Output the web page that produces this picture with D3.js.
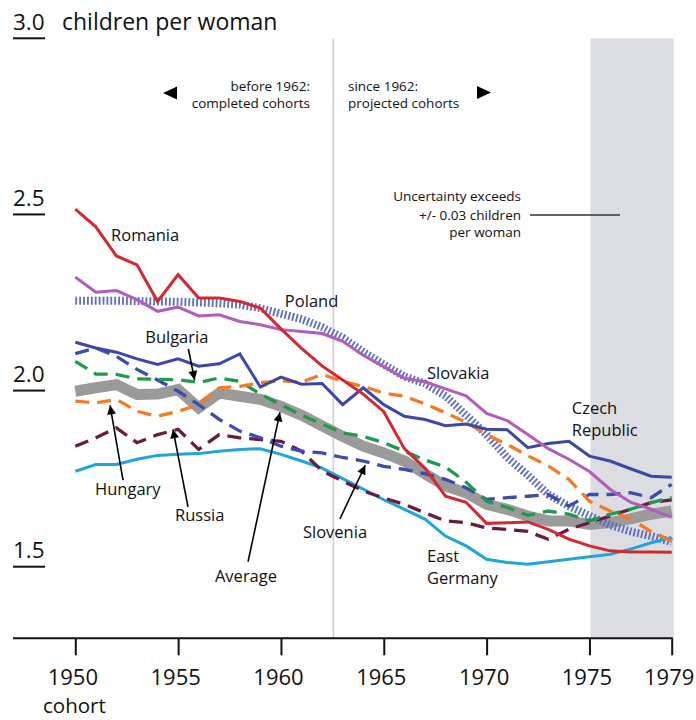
<!DOCTYPE html>
<html>
<head>
<meta charset="utf-8">
<script src="https://cdn.jsdelivr.net/npm/d3@7"></script>
<style>
body { margin: 0; background: #fff; }
svg text { font-family: "Open Sans", "Noto Sans", sans-serif; fill: #111; }
</style>
</head>
<body>
<script>
var width = 696, height = 720;

// cohort years
var years = [1950, 1951, 1952, 1953, 1954, 1955, 1956, 1957, 1958, 1959,
             1960, 1961, 1962, 1963, 1964, 1965, 1966, 1967, 1968, 1969,
             1970, 1971, 1972, 1973, 1974, 1975, 1976, 1977, 1978, 1979];

// completed / projected cohort fertility, children per woman
var romania  = [2.515, 2.465, 2.382, 2.357, 2.253, 2.329, 2.263, 2.263, 2.253, 2.234,
                2.175, 2.12, 2.07, 2.03, 1.99, 1.94, 1.835, 1.78, 1.70, 1.683,
                1.623, 1.625, 1.627, 1.606, 1.578, 1.559, 1.545, 1.542, 1.542, 1.541];
var slovakia = [2.322, 2.279, 2.284, 2.258, 2.225, 2.237, 2.212, 2.215, 2.196, 2.187,
                2.173, 2.168, 2.162, 2.14, 2.10, 2.068, 2.035, 2.025, 2.005, 1.985,
                1.935, 1.915, 1.875, 1.835, 1.805, 1.77, 1.72, 1.683, 1.663, 1.64];
var poland   = [2.255, 2.255, 2.255, 2.254, 2.253, 2.252, 2.25, 2.248, 2.244, 2.234,
                2.218, 2.203, 2.18, 2.15, 2.11, 2.074, 2.04, 2.02, 1.985, 1.93,
                1.875, 1.81, 1.76, 1.705, 1.672, 1.645, 1.618, 1.60, 1.587, 1.57];
var czech    = [2.137, 2.121, 2.109, 2.09, 2.074, 2.09, 2.069, 2.076, 2.104, 2.01,
                2.038, 2.018, 2.02, 1.96, 2.008, 1.96, 1.927, 1.918, 1.90, 1.905,
                1.89, 1.889, 1.838, 1.85, 1.856, 1.814, 1.80, 1.778, 1.757, 1.754];
var slovenia = [2.105, 2.121, 2.097, 2.06, 2.03, 1.998, 1.96, 1.918, 1.885, 1.866,
                1.842, 1.828, 1.823, 1.81, 1.80, 1.785, 1.776, 1.764, 1.748, 1.724,
                1.691, 1.696, 1.70, 1.705, 1.672, 1.705, 1.705, 1.71, 1.696, 1.734];
var bulgaria = [2.083, 2.047, 2.046, 2.033, 2.032, 2.031, 2.023, 2.036, 2.026, 1.99,
                1.96, 1.93, 1.905, 1.88, 1.87, 1.852, 1.828, 1.803, 1.783, 1.74,
                1.686, 1.668, 1.646, 1.658, 1.649, 1.63, 1.649, 1.663, 1.682, 1.696];
var average  = [1.998, 2.008, 2.017, 1.989, 1.99, 2.003, 1.951, 1.993, 1.984, 1.975,
                1.955, 1.93, 1.90, 1.87, 1.842, 1.823, 1.80, 1.764, 1.729, 1.71,
                1.677, 1.663, 1.644, 1.63, 1.63, 1.62, 1.625, 1.636, 1.649, 1.658];
var hungary  = [1.97, 1.965, 1.975, 1.941, 1.927, 1.941, 1.96, 2.008, 2.012, 2.022,
                2.028, 2.024, 2.046, 2.026, 2.012, 1.993, 1.984, 1.962, 1.937, 1.91,
                1.875, 1.847, 1.815, 1.786, 1.748, 1.686, 1.658, 1.635, 1.60, 1.573];
var russia   = [1.842, 1.866, 1.894, 1.852, 1.875, 1.89, 1.833, 1.875, 1.866, 1.861,
                1.856, 1.828, 1.772, 1.743, 1.715, 1.695, 1.677, 1.653, 1.63, 1.625,
                1.61, 1.606, 1.60, 1.578, 1.606, 1.625, 1.644, 1.663, 1.682, 1.69];
var eastGermany = [1.771, 1.79, 1.79, 1.805, 1.816, 1.819, 1.821, 1.828, 1.833, 1.835,
                1.819, 1.80, 1.78, 1.75, 1.72, 1.69, 1.663, 1.635, 1.587, 1.559,
                1.521, 1.512, 1.507, 1.514, 1.521, 1.528, 1.535, 1.55, 1.568, 1.583];

var xTicks = [1950, 1955, 1960, 1965, 1970, 1975, 1979];
var yTicks = [1.5, 2.0, 2.5, 3.0];

var x = d3.scaleLinear().domain([1950, 1979]).range([75.3, 671.7]);
var y = d3.scaleLinear().domain([1.5, 3.0]).range([566.7, 38.3]);
var yBottom = 638.3;

var svg = d3.select("body").append("svg")
    .attr("width", width)
    .attr("height", height);

svg.append("defs").append("marker")
    .attr("id", "arrow")
    .attr("viewBox", "0 0 10 10")
    .attr("refX", 10).attr("refY", 5)
    .attr("markerWidth", 10).attr("markerHeight", 9)
    .attr("markerUnits", "userSpaceOnUse")
    .attr("orient", "auto")
  .append("path")
    .attr("d", "M0,0L10,5L0,10Z")
    .attr("fill", "#000");

// uncertainty band
svg.append("rect")
    .attr("x", x(1975) + 1)
    .attr("y", y(3.0))
    .attr("width", x(1979) - x(1975) + 1)
    .attr("height", yBottom - y(3.0))
    .attr("fill", "#dcdde0");

// 1962 divider
svg.append("line")
    .attr("x1", x(1962.55)).attr("x2", x(1962.55))
    .attr("y1", y(3.0)).attr("y2", yBottom)
    .attr("stroke", "#cfcfcf")
    .attr("stroke-width", 1.6);

// y labels with underline
var yg = svg.append("g").selectAll("g")
    .data(yTicks).enter().append("g");
yg.append("line")
    .attr("x1", 13).attr("x2", 45)
    .attr("y1", function(d) { return y(d); })
    .attr("y2", function(d) { return y(d); })
    .attr("stroke", "#111").attr("stroke-width", 2);
yg.append("text")
    .attr("x", 13)
    .attr("y", function(d) { return y(d) - 8.5; })
    .style("font-size", "22.5px")
    .text(function(d) { return d.toFixed(1); });

svg.append("text")
    .attr("x", 62).attr("y", y(3.0) - 8.5)
    .style("font-size", "23px")
    .text("children per woman");

// x axis
svg.append("line")
    .attr("x1", 13).attr("x2", x(1979) + 1)
    .attr("y1", yBottom).attr("y2", yBottom)
    .attr("stroke", "#111").attr("stroke-width", 2);

var xAxis = svg.append("g")
    .attr("transform", "translate(0," + yBottom + ")")
    .call(d3.axisBottom(x).tickValues(xTicks).tickSize(17).tickSizeOuter(0).tickFormat(d3.format("d")));
xAxis.select(".domain").remove();
xAxis.selectAll(".tick line").attr("stroke", "#111").attr("stroke-width", 2);
xAxis.selectAll(".tick text")
    .attr("y", 47).attr("dy", 0).attr("dx", -3)
    .style("font-size", "22px")
    .style("font-family", "'Open Sans', sans-serif")
    .attr("fill", "#111");

svg.append("text")
    .attr("x", 43).attr("y", 713)
    .style("font-size", "20.5px")
    .text("cohort");

// series
var line = d3.line()
    .x(function(d, i) { return x(years[i]); })
    .y(function(d) { return y(d); });

var series = [
  { v: average,     color: "#9a9a9a", w: 11, dash: null },
  { v: poland,      color: "#5b6dc6", w: 8,  dash: "1.8,2.1" },
  { v: eastGermany, color: "#1ea6da", w: 3,  dash: null },
  { v: russia,      color: "#6a1b40", w: 3.3,  dash: "14,8" },
  { v: slovenia,    color: "#3b4cb0", w: 3.3,  dash: "14,8" },
  { v: bulgaria,    color: "#1f9a4a", w: 3.3,  dash: "14,8" },
  { v: hungary,     color: "#f47b26", w: 3.3,  dash: "14,8" },
  { v: czech,       color: "#3a48a8", w: 3,  dash: null },
  { v: slovakia,    color: "#b25cbb", w: 3,  dash: null },
  { v: romania,     color: "#d4282e", w: 3,  dash: null }
];

svg.append("g").selectAll("path")
    .data(series).enter().append("path")
    .attr("d", function(d) { return line(d.v); })
    .attr("fill", "none")
    .attr("stroke", function(d) { return d.color; })
    .attr("stroke-width", function(d) { return d.w; })
    .attr("stroke-dasharray", function(d) { return d.dash; })
    .attr("stroke-linejoin", "miter");

// country labels (year, value positions)
var labels = [
  { t: ["Romania"], yr: 1951.74, v: 2.425 },
  { t: ["Poland"], yr: 1960.19, v: 2.237 },
  { t: ["Bulgaria"], yr: 1953.4, v: 2.135 },
  { t: ["Hungary"], yr: 1950.96, v: 1.704 },
  { t: ["Russia"], yr: 1954.85, v: 1.630 },
  { t: ["Average"], yr: 1956.79, v: 1.457 },
  { t: ["Slovenia"], yr: 1961.07, v: 1.582 },
  { t: ["Slovakia"], yr: 1967.1, v: 2.033 },
  { t: ["Czech", "Republic"], yr: 1974.14, v: 1.934 },
  { t: ["East", "Germany"], yr: 1967.1, v: 1.514 }
];

var lab = svg.append("g").selectAll("text")
    .data(labels).enter().append("text")
    .attr("x", function(d) { return x(d.yr); })
    .attr("y", function(d) { return y(d.v); })
    .style("font-size", "16.5px");
lab.selectAll("tspan")
    .data(function(d) { return d.t.map(function(s) { return { s: s, px: x(d.yr) }; }); })
    .enter().append("tspan")
    .attr("x", function(d) { return d.px; })
    .attr("dy", function(d, i) { return i ? 22.5 : 0; })
    .text(function(d) { return d.s; });

// pointer arrows [from, to] in year/value
var arrows = [
  [[1955.5, 2.118], [1955.8, 2.03]],
  [[1952.32, 1.746], [1951.69, 1.958]],
  [[1955.48, 1.670], [1954.75, 1.89]],
  [[1958.4, 1.514], [1959.95, 1.938]],
  [[1962.87, 1.636], [1964.1, 1.788]]
];
svg.append("g").selectAll("line")
    .data(arrows).enter().append("line")
    .attr("x1", function(d) { return x(d[0][0]); })
    .attr("y1", function(d) { return y(d[0][1]); })
    .attr("x2", function(d) { return x(d[1][0]); })
    .attr("y2", function(d) { return y(d[1][1]); })
    .attr("stroke", "#000")
    .attr("stroke-width", 1.6)
    .attr("marker-end", "url(#arrow)");

// before / since 1962 notes
var note = svg.append("g").style("font-size", "13.5px");
note.append("text").attr("x", 310).attr("y", 91).attr("text-anchor", "end").text("before 1962:");
note.append("text").attr("x", 310).attr("y", 108).attr("text-anchor", "end").text("completed cohorts");
note.append("text").attr("x", 348).attr("y", 91).text("since 1962:");
note.append("text").attr("x", 348).attr("y", 108).text("projected cohorts");
note.append("path").attr("d", "M163,93L177,86.5L177,99.5Z").attr("fill", "#000");
note.append("path").attr("d", "M491,92.5L477,86L477,99Z").attr("fill", "#000");

// uncertainty note
var unc = svg.append("g").style("font-size", "13.5px").attr("text-anchor", "end");
unc.append("text").attr("x", 521).attr("y", 201).text("Uncertainty exceeds");
unc.append("text").attr("x", 521).attr("y", 220).text("+/- 0.03 children");
unc.append("text").attr("x", 521).attr("y", 237).text("per woman");
svg.append("line")
    .attr("x1", 530).attr("x2", 620)
    .attr("y1", 215).attr("y2", 215)
    .attr("stroke", "#333").attr("stroke-width", 1.6);
</script>
</body>
</html>
